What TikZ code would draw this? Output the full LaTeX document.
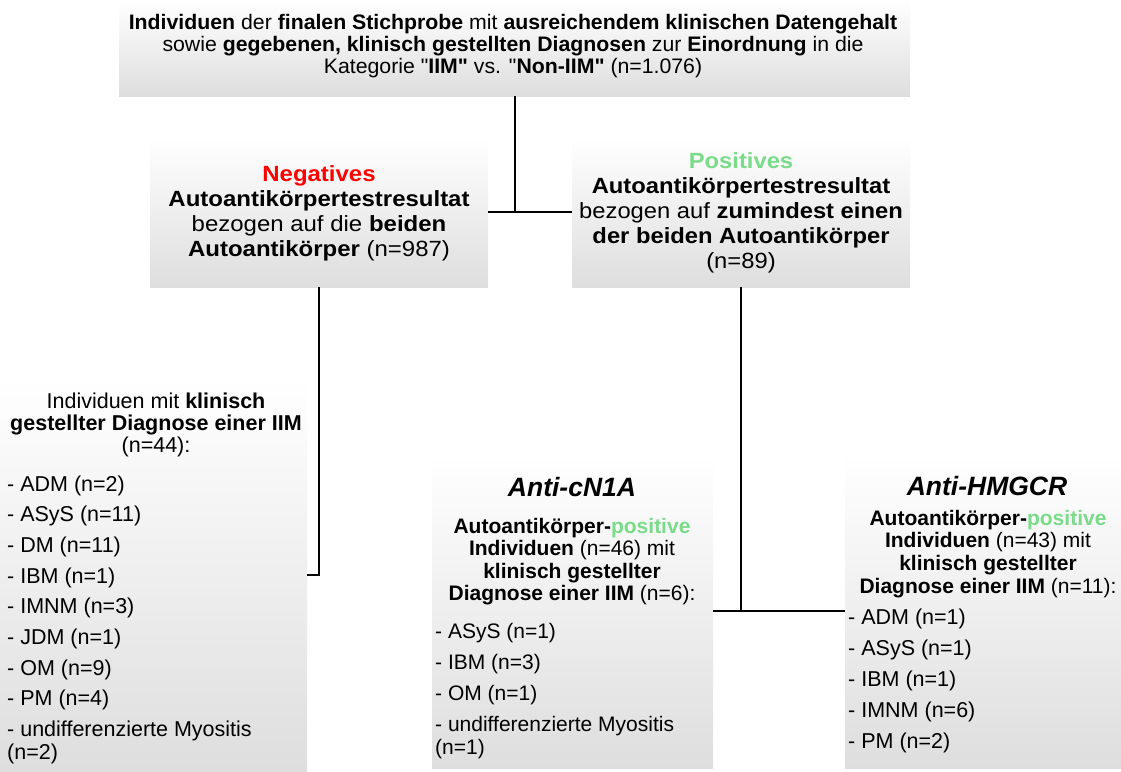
\documentclass[tikz,border=0pt]{standalone}
\usepackage{fontspec}
\setmainfont{Liberation Sans}[Ligatures=TeXOff]
\definecolor{negred}{RGB}{255,0,0}
\definecolor{posgreen}{RGB}{122,219,138}
% centred and left-aligned text blocks, baseline = first line
\newcommand\cblock[2]{\scalebox{#1}[1]{\begin{tabular}[t]{@{}c@{}}#2\end{tabular}}}
\newcommand\lblock[1]{\begin{tabular}[t]{@{}l@{}}#1\end{tabular}}
\begin{document}
\begin{tikzpicture}[x=1pt,y=-1pt,
  panel/.style={draw=none, inner sep=0pt, shading=axis,
    top color=white, middle color=white, bottom color=black!13},
  txt/.style={inner sep=0pt, anchor=base},
  lst/.style={inner sep=0pt, anchor=base west},
  link/.style={draw=black, line width=2pt}]
\useasboundingbox (0,0) rectangle (1121,771);

% panels
\node[panel, minimum width=791pt, minimum height=96pt]  (top)  at (514.5,48)  {};
\node[panel, minimum width=338pt, minimum height=150pt] (neg)  at (319,212)   {};
\node[panel, minimum width=338pt, minimum height=150pt] (pos)  at (741,212)   {};
\node[panel, minimum width=307pt, minimum height=392pt] (iimn) at (153.5,575) {};
\node[panel, minimum width=281pt, minimum height=314pt] (cn)   at (572.5,611) {};
\node[panel, minimum width=276pt, minimum height=314pt] (hm)   at (983,611)   {};

% connectors
\draw[link] (top.south) -- (top.south |- neg.east);
\draw[link] (neg.east) -- (pos.west);
\draw[link] (neg.south) |- (iimn.east);
\draw[link] (pos.south) -- (pos.south |- cn.east);
\draw[link] (cn.east) -- (hm.west);

% texts
\node[txt, font=\fontsize{21}{22.2}\selectfont] (toptxt) at (513,29) {\cblock{1.013}{%
\textbf{Individuen} der \textbf{finalen Stichprobe} mit \textbf{ausreichendem klinischen Datengehalt}\\
sowie \textbf{gegebenen, klinisch gestellten Diagnosen} zur \textbf{Einordnung} in die\\
Kategorie "\textbf{IIM"} vs. "\textbf{Non-IIM"} (n=1.076)}};

\node[txt, font=\fontsize{22}{25.3}\selectfont] (negtxt) at (319,181) {\cblock{1.09}{%
\textcolor{negred}{\textbf{Negatives}}\\
\textbf{Autoantikörpertestresultat}\\
bezogen auf die \textbf{beiden}\\
\textbf{Autoantikörper} (n=987)}};

\node[txt, font=\fontsize{22}{25}\selectfont] (postxt) at (741,168) {\cblock{1.08}{%
\textcolor{posgreen}{\textbf{Positives}}\\
\textbf{Autoantikörpertestresultat}\\
bezogen auf \textbf{zumindest einen}\\
\textbf{der beiden Autoantikörper}\\
(n=89)}};

\node[txt, font=\fontsize{21.5}{22}\selectfont] (iimhd) at (156,408) {\cblock{1}{%
Individuen mit \textbf{klinisch}\\
\textbf{gestellter Diagnose einer IIM}\\
(n=44):}};
\node[lst, font=\fontsize{21.5}{23}\selectfont] (iimlist) at (7,491) {\lblock{%
- ADM (n=2)\\[7.7pt]
- ASyS (n=11)\\[7.7pt]
- DM (n=11)\\[7.7pt]
- IBM (n=1)\\[7.7pt]
- IMNM (n=3)\\[7.7pt]
- JDM (n=1)\\[7.7pt]
- OM (n=9)\\[7.7pt]
- PM (n=4)\\[7.7pt]
- undifferenzierte Myositis\\
(n=2)}};

\node[txt, font=\fontsize{26.5}{28}\selectfont\bfseries\itshape] (cntitle) at (572,496) {Anti-cN1A};
\node[txt, font=\fontsize{21}{22.5}\selectfont] (cnhd) at (572,533) {\cblock{1}{%
\textbf{Autoantikörper-}\textcolor{posgreen}{\textbf{positive}}\\
\textbf{Individuen} (n=46) mit\\
\textbf{klinisch gestellter}\\
\textbf{Diagnose einer IIM} (n=6):}};
\node[lst, font=\fontsize{21}{23}\selectfont] (cnlist) at (435,638) {\lblock{%
- ASyS (n=1)\\[8pt]
- IBM (n=3)\\[8pt]
- OM (n=1)\\[8pt]
- undifferenzierte Myositis\\
(n=1)}};

\node[txt, font=\fontsize{26.5}{28}\selectfont\bfseries\itshape] (hmtitle) at (987,495) {Anti-HMGCR};
\node[txt, font=\fontsize{21}{22.7}\selectfont] (hmhd) at (988,525) {\cblock{1}{%
\textbf{Autoantikörper-}\textcolor{posgreen}{\textbf{positive}}\\
\textbf{Individuen} (n=43) mit\\
\textbf{klinisch gestellter}\\
\textbf{Diagnose einer IIM} (n=11):}};
\node[lst, font=\fontsize{21.5}{23}\selectfont] (hmlist) at (848,624) {\lblock{%
- ADM (n=1)\\[8pt]
- ASyS (n=1)\\[8pt]
- IBM (n=1)\\[8pt]
- IMNM (n=6)\\[8pt]
- PM (n=2)}};
\end{tikzpicture}
\end{document}
